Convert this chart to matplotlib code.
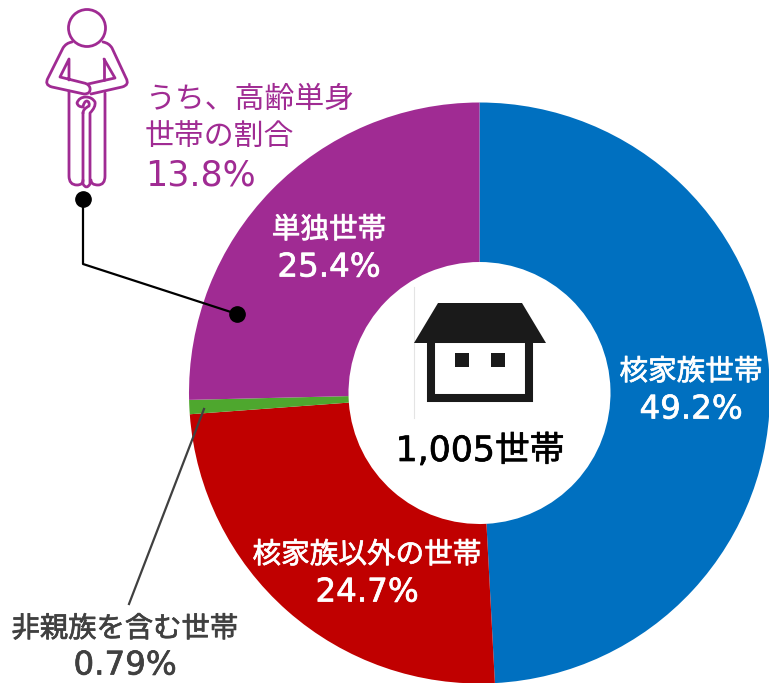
#!/usr/bin/env python3
"""Donut chart of household types, with the person and house icons."""

import matplotlib.pyplot as plt
import matplotlib.patheffects as pe
from matplotlib.patches import Circle, Polygon, Rectangle
from matplotlib.path import Path
from matplotlib.patches import PathPatch

FONT = ["DejaVu Sans", "Noto Sans CJK JP"]

categories = ["核家族世帯", "核家族以外の世帯", "非親族を含む世帯", "単独世帯"]
values = [49.2, 24.7, 0.79, 25.4]
value_labels = ["49.2%", "24.7%", "0.79%", "25.4%"]
colors = ["#0070C0", "#C00000", "#4EA72E", "#A02B93"]
total_label = "1,005世帯"
sub_label = ["うち、高齢単身", "世帯の割合", "13.8%"]

PURPLE = "#A02B93"
DARK = "#1A1A1A"
GRAY = "#404040"


def smooth(ax, points, **kwargs):
    """Outline through points, with quadratic corners: (x, y, True) is a control point."""
    verts = [points[0][:2]]
    codes = [Path.MOVETO]
    for p in points[1:]:
        verts.append(p[:2])
        codes.append(Path.CURVE3 if len(p) == 3 else Path.LINETO)
    ax.add_patch(PathPatch(Path(verts, codes), fill=False, **kwargs))


def label(ax, x, y, text, color, size, weight=0.5):
    t = ax.text(x, y, text, color=color, fontsize=size, ha="center", va="center", family=FONT, zorder=8)
    t.set_path_effects([pe.withStroke(linewidth=weight, foreground=color)])
    return t


def draw_person(ax):
    style = dict(edgecolor=PURPLE, linewidth=2.0, capstyle="round", joinstyle="round", zorder=5)
    ax.add_patch(Circle((87, 28), 18.5, fill=False, **style))
    # left arm
    smooth(ax, [(72, 42), (66, 43, 1), (63, 48), (48, 78), (44, 85, 1), (52, 87),
                (84, 94), (91, 94, 1), (90, 88), (89, 84, 1), (84, 83),
                (60, 77), (69, 59), (69, 80)], **style)
    # right arm
    smooth(ax, [(103, 42), (109, 43, 1), (112, 48), (126, 78), (130, 85, 1), (122, 87),
                (91, 94)], **style)
    smooth(ax, [(104, 59), (115, 78), (88, 84)], **style)
    smooth(ax, [(104, 59), (104, 80)], **style)
    # legs
    smooth(ax, [(69, 91), (69, 176), (69, 185, 1), (77, 185), (83, 185, 1), (83, 180)], **style)
    smooth(ax, [(105, 93), (105, 176), (105, 185, 1), (98, 185), (91, 185, 1), (91, 180)], **style)
    # cane
    smooth(ax, [(83, 113), (83, 184), (86.5, 190, 1), (90, 184), (90, 113),
                (96, 107, 1), (95, 102), (92, 97, 1), (86, 97), (79, 97, 1), (77, 103),
                (78, 107, 1), (83, 107), (84, 101, 1), (87, 101), (90, 102, 1), (89, 106),
                (83, 109, 1), (83, 113)], **style)


def draw_house(ax):
    ax.add_patch(Polygon([(438, 303), (522, 303), (546, 343), (414, 343)], color=DARK, lw=0, zorder=5))
    ax.add_patch(Rectangle((431, 339), 98, 59, fill=False, edgecolor=DARK, linewidth=5.8, zorder=5))
    ax.add_patch(Rectangle((455, 353), 14, 14, color=DARK, lw=0, zorder=5))
    ax.add_patch(Rectangle((491, 353), 14, 14, color=DARK, lw=0, zorder=5))
    ax.plot([413.5, 413.5], [287, 418], color="#E4E4E4", linewidth=0.8, zorder=4)


def main():
    fig = plt.figure(figsize=(7.69, 6.83), dpi=100)
    ax = fig.add_axes([0, 0, 1, 1])

    # y runs downward so everything is in image pixels; -90 is the top of the ring
    ax.pie(
        values,
        colors=colors,
        center=(479.5, 393),
        radius=290.5,
        startangle=-90,
        counterclock=True,
        wedgeprops=dict(width=159.5, linewidth=0),
    )
    ax.set_xlim(0, 769)
    ax.set_ylim(683, 0)
    ax.set_aspect("equal")
    ax.axis("off")

    # labels in the ring
    label(ax, 691, 372, categories[0], "white", 20.6)
    label(ax, 691, 410, value_labels[0], "white", 23.4)
    label(ax, 367, 555, categories[1], "white", 20.6)
    label(ax, 367, 593, value_labels[1], "white", 23.4)
    label(ax, 329, 230, categories[3], "white", 20.6)
    label(ax, 329, 268, value_labels[3], "white", 23.4)

    # small slice, labelled outside
    ax.plot([204, 129], [409, 604], color=GRAY, linewidth=1.6, zorder=4)
    label(ax, 125, 629, categories[2], GRAY, 20.4)
    label(ax, 125, 666, value_labels[2], GRAY, 23.4)

    # centre
    draw_house(ax)
    label(ax, 480, 451, total_label, "black", 25)

    # elderly share callout
    draw_person(ax)
    ax.plot([83, 83, 237], [199, 264, 314], color="black", linewidth=1.6, zorder=6)
    ax.plot([83, 237], [199, 314], "o", color="black", markersize=11, linestyle="none", zorder=7)
    ax.text(145, 99, sub_label[0], color=PURPLE, fontsize=21.5, ha="left", va="center", family=FONT)
    ax.text(145, 136, sub_label[1], color=PURPLE, fontsize=21.5, ha="left", va="center", family=FONT)
    ax.text(145, 175, sub_label[2], color=PURPLE, fontsize=25, ha="left", va="center", family=FONT)

    fig.savefig("out.png", dpi=100)


if __name__ == "__main__":
    main()
